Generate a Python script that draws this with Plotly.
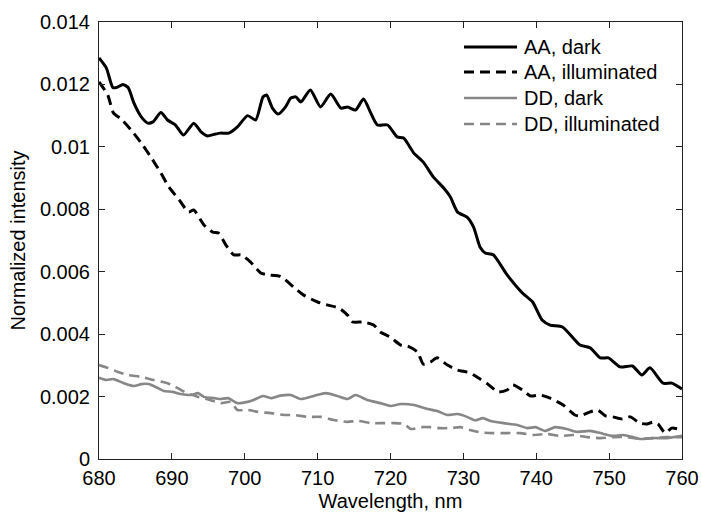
import plotly.graph_objects as go

# ---- data ----
wl_aa_dark = [680, 681, 681.9, 682.4, 683.3, 684, 684.8, 685.8, 686.7, 687.4,
              688.5, 689.4, 690.5, 691.6, 693, 694, 694.9, 695.8, 696.7, 697.8,
              699, 700.4, 701.5, 702.5, 703, 703.8, 704.6, 705.6, 706.3, 707,
              707.7, 709, 710.4, 711.8, 713.2, 714.1, 715.2, 716.3, 717.3, 718.2,
              719.6, 720.9, 721.8, 723.2, 724.5, 725.9, 727.3, 728.2, 729.2, 730.5,
              731.4, 732.3, 733, 734.1, 736, 738.1, 739.5, 740.8, 741.9, 743.6,
              746, 747.4, 748.8, 749.9, 751.5, 753.2, 754.5, 755.6, 757.4, 758.6,
              760]
aa_dark = [0.01285, 0.01253, 0.0119, 0.0119, 0.0120, 0.0119, 0.0114, 0.01096, 0.01076, 0.0108,
           0.0111, 0.01086, 0.0107, 0.01038, 0.01076, 0.01048, 0.01035, 0.0104, 0.01044, 0.01044,
           0.01064, 0.0110, 0.01086, 0.0116, 0.01166, 0.01124, 0.01105, 0.01128, 0.01156, 0.0116,
           0.01144, 0.01182, 0.01128, 0.01169, 0.01124, 0.01128, 0.01118, 0.01153, 0.01108, 0.0107,
           0.0107, 0.01032, 0.01028, 0.0098, 0.00951, 0.00903, 0.00868, 0.0084, 0.00791, 0.00775,
           0.00743, 0.00678, 0.0066, 0.00654, 0.0059, 0.00532, 0.00503, 0.00445, 0.00429, 0.00423,
           0.00365, 0.00356, 0.00324, 0.00324, 0.00295, 0.00298, 0.00269, 0.00292, 0.00243, 0.00243,
           0.00224]

wl_aa_ill = [680, 681.2, 682, 683, 684.4, 685.8, 687.1, 688.5, 689.6, 691,
             692.3, 693, 694.4, 695.6, 696.4, 697.4, 698.5, 699.5, 700.8, 702.2,
             703.1, 704.9, 706.7, 708.1, 710, 711.4, 712.9, 714.1, 714.8, 716.3,
             717.7, 718.6, 720, 721.4, 722.3, 723.7, 724.5, 725.5, 726.4, 727.8,
             729.2, 730.9, 732.3, 733.2, 734.8, 736, 736.8, 738.1, 739.2, 740.5,
             741.9, 743.7, 745.3, 746, 747.4, 748.4, 749.5, 750.5, 751.8, 752.9,
             754.2, 755.2, 756, 756.7, 757.7, 758.6, 760]
aa_ill = [0.01208, 0.01166, 0.01108, 0.0109, 0.01054, 0.01012, 0.00968, 0.00916, 0.00871, 0.0083,
          0.00791, 0.00798, 0.0075, 0.00727, 0.00724, 0.00686, 0.00654, 0.00654, 0.00631, 0.00596,
          0.0059, 0.00585, 0.00551, 0.00525, 0.00503, 0.00493, 0.00484, 0.00461, 0.00439, 0.00439,
          0.00429, 0.00407, 0.0039, 0.00365, 0.00362, 0.00343, 0.00304, 0.00311, 0.00324, 0.00301,
          0.00285, 0.00276, 0.00256, 0.00243, 0.00215, 0.00221, 0.00237, 0.00221, 0.00202, 0.00205,
          0.00195, 0.00173, 0.00141, 0.00138, 0.00151, 0.00157, 0.00138, 0.00135, 0.00128, 0.00135,
          0.00115, 0.00112, 0.00118, 0.00112, 0.00083, 0.00099, 0.00093]

wl_dd_dark = [680, 681, 682, 683.4, 684.8, 685.8, 686.8, 688.1, 688.9, 690.1,
              691.2, 692.6, 693.6, 694.4, 695.8, 696.7, 697.7, 699, 700.4, 701.2,
              702.5, 703.6, 704.9, 706.3, 707.7, 709.5, 711.1, 712.7, 714.1, 715.2,
              716.8, 718.6, 720, 721.4, 723.2, 725.1, 726.4, 727.8, 729.2, 730.5,
              731.6, 732.7, 733.7, 735.5, 737.4, 738.8, 739.9, 741.2, 742.6, 744.2,
              745.6, 747.4, 748.8, 750.5, 751.9, 753.3, 754.2, 756, 757.9, 760]
dd_dark = [0.0026, 0.00253, 0.00256, 0.00243, 0.00234, 0.0024, 0.0024, 0.00227, 0.00218, 0.00215,
           0.00208, 0.00205, 0.00211, 0.00199, 0.00195, 0.00192, 0.00195, 0.00179, 0.00183, 0.00189,
           0.00202, 0.00195, 0.00203, 0.00205, 0.00192, 0.00202, 0.00211, 0.00202, 0.00192, 0.00205,
           0.00189, 0.00179, 0.0017, 0.00176, 0.00173, 0.0016, 0.00154, 0.00141, 0.00144, 0.00135,
           0.00124, 0.00131, 0.00122, 0.00115, 0.00109, 0.00099, 0.00102, 0.0009, 0.00102, 0.00096,
           0.00087, 0.0009, 0.00083, 0.00074, 0.00077, 0.0007, 0.00064, 0.00067, 0.00067, 0.00074]

wl_dd_ill = [680, 681.2, 682.6, 684, 685.8, 687.5, 689.4, 690.8, 692.1, 693.6,
             694.8, 696.7, 698.1, 699, 700.4, 701.8, 703.6, 705.4, 706.7, 708.6,
             710.4, 712.2, 714.1, 715.5, 717.3, 719.1, 720.5, 721.9, 722.8, 724.2,
             725.5, 726.8, 728.2, 729.6, 730.9, 732.5, 734.1, 736, 737.8, 739.6,
             741.5, 743.3, 745.1, 747, 748.8, 750.5, 752.5, 754.2, 756, 757.9,
             760]
dd_ill = [0.00301, 0.00292, 0.00279, 0.00269, 0.00263, 0.00253, 0.00243, 0.00227, 0.00211, 0.00199,
          0.00192, 0.00179, 0.00183, 0.00157, 0.00157, 0.00151, 0.00147, 0.00141, 0.00141, 0.00135,
          0.00135, 0.00125, 0.00119, 0.00122, 0.00115, 0.00115, 0.00115, 0.00112, 0.00096, 0.00102,
          0.00102, 0.00099, 0.00099, 0.00102, 0.00093, 0.00085, 0.00083, 0.00083, 0.00083, 0.00077,
          0.0008, 0.00074, 0.00077, 0.0007, 0.00067, 0.0007, 0.0007, 0.00064, 0.00067, 0.0007,
          0.0007]

series_names = ["AA, dark", "AA, illuminated", "DD, dark", "DD, illuminated"]
x_ticks = [680, 690, 700, 710, 720, 730, 740, 750, 760]
y_ticks = [0, 0.002, 0.004, 0.006, 0.008, 0.01, 0.012, 0.014]
y_tick_labels = ["0", "0.002", "0.004", "0.006", "0.008", "0.01", "0.012", "0.014"]

# ---- styles ----
BLACK = "#000000"
GRAY = "#878787"
DASH = "10px,6px"
styles = [
    dict(color=BLACK, width=3, dash="solid"),
    dict(color=BLACK, width=3, dash=DASH),
    dict(color=GRAY, width=2.6, dash="solid"),
    dict(color=GRAY, width=2.6, dash=DASH),
]
FONT = "Liberation Sans, Arial, Helvetica, sans-serif"

fig = go.Figure()
for xs, ys, name, st in zip([wl_aa_dark, wl_aa_ill, wl_dd_dark, wl_dd_ill],
                            [aa_dark, aa_ill, dd_dark, dd_ill],
                            series_names, styles):
    fig.add_trace(go.Scatter(x=xs, y=ys, mode="lines", name=name,
                             line=dict(shape="spline", smoothing=0.6, **st),
                             showlegend=False))

# ---- legend drawn inside the axes (top right) ----
L, R, T, B = 99, 682, 22, 459
W, H = R - L, B - T
rows_px = [47, 72, 98, 124]
for name, st, ry in zip(series_names, styles, rows_px):
    yp = (B - ry) / H
    fig.add_shape(type="line", xref="paper", yref="paper",
                  x0=(464 - L) / W, x1=(517 - L) / W, y0=yp, y1=yp,
                  line=dict(color=st["color"], width=st["width"], dash=st["dash"]))
    fig.add_annotation(xref="paper", yref="paper", x=(522 - L) / W, y=yp,
                       xanchor="left", yanchor="middle", text=name, showarrow=False,
                       font=dict(family=FONT, size=20, color="#000000"))

axis_common = dict(showgrid=False, zeroline=False, showline=True, linecolor="#222222",
                   linewidth=1, mirror="ticks", ticks="inside", ticklen=6,
                   tickcolor="#222222", tickwidth=1,
                   tickfont=dict(family=FONT, size=20, color="#000000"))

fig.update_layout(
    width=701, height=512,
    margin=dict(l=L, r=701 - R, t=T, b=512 - B, autoexpand=False),
    paper_bgcolor="white", plot_bgcolor="white",
    font=dict(family=FONT, size=20, color="#000000"),
    xaxis=dict(range=[680, 760], tickvals=x_ticks, ticklabelstandoff=1,
               title=dict(text="Wavelength, nm", font=dict(family=FONT, size=20), standoff=9),
               **axis_common),
    yaxis=dict(range=[0, 0.014], tickvals=y_ticks, ticktext=y_tick_labels, ticklabelstandoff=4,
               title=dict(text="Normalized intensity", font=dict(family=FONT, size=20), standoff=8),
               **axis_common),
)

fig.write_html("out.html")
